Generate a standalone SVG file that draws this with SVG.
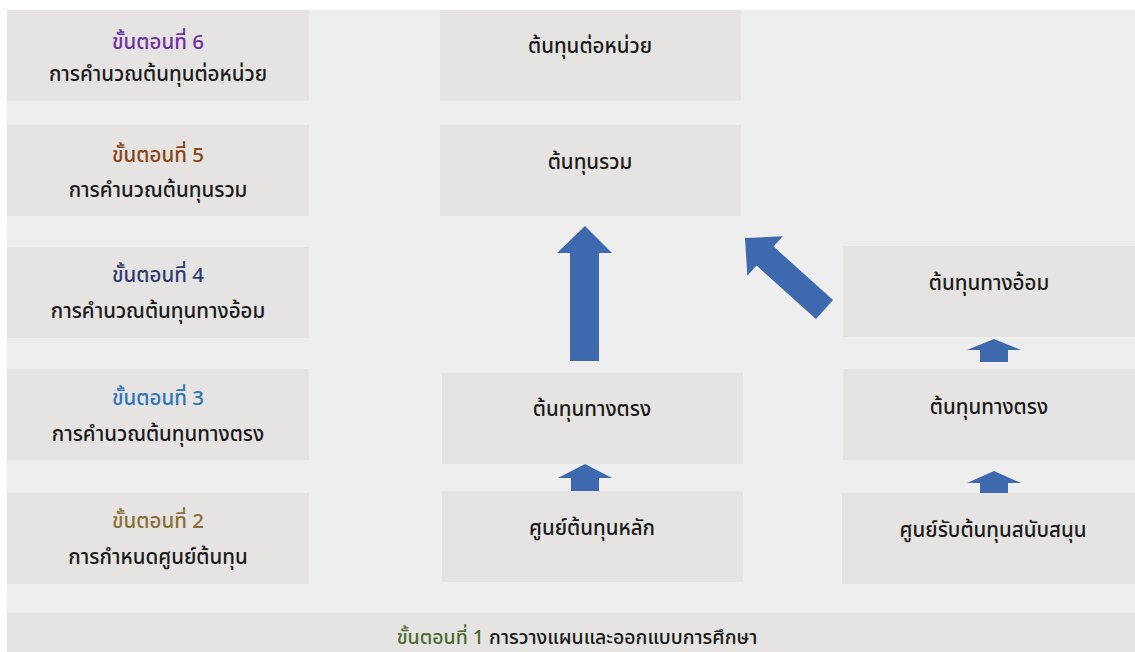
<svg xmlns="http://www.w3.org/2000/svg" width="1135" height="652" viewBox="0 0 1135 652">
<style>
.box{fill:#E5E4E2}
.t{font-family:"Noto Sans Thai","Noto Sans","DejaVu Sans",sans-serif;font-size:20.5px;font-weight:500;fill:#1a1a1a;text-anchor:middle}
.arr{fill:#3F69AF}
</style>
<rect x="0" y="0" width="1135" height="652" fill="#ffffff"/>
<rect x="7" y="10" width="1128" height="642" fill="#EEEEEE"/>
<g id="step6"><rect class="box" x="7" y="10" width="302" height="91"/>
<text class="t" x="158" y="49" style="fill:#7030A0">ขั้นตอนที่ 6</text>
<text class="t" x="158" y="81">การคำนวณต้นทุนต่อหน่วย</text></g>
<g id="step5"><rect class="box" x="7" y="125" width="302" height="91"/>
<text class="t" x="158" y="162" style="fill:#8B4513">ขั้นตอนที่ 5</text>
<text class="t" x="158" y="197">การคำนวณต้นทุนรวม</text></g>
<g id="step4"><rect class="box" x="7" y="247" width="302" height="91"/>
<text class="t" x="158" y="282" style="fill:#2F3B6E">ขั้นตอนที่ 4</text>
<text class="t" x="158" y="318">การคำนวณต้นทุนทางอ้อม</text></g>
<g id="step3"><rect class="box" x="7" y="369" width="302" height="91"/>
<text class="t" x="158" y="405" style="fill:#2E75B6">ขั้นตอนที่ 3</text>
<text class="t" x="158" y="441">การคำนวณต้นทุนทางตรง</text></g>
<g id="step2"><rect class="box" x="7" y="493" width="302" height="91"/>
<text class="t" x="158" y="528" style="fill:#8C6D37">ขั้นตอนที่ 2</text>
<text class="t" x="158" y="564">การกำหนดศูนย์ต้นทุน</text></g>
<g id="step1"><rect class="box" x="7" y="613" width="1128" height="39"/>
<text class="t" x="577" y="644" style="font-size:19.5px"><tspan style="fill:#4A6B2E">ขั้นตอนที่ 1</tspan> การวางแผนและออกแบบการศึกษา</text></g>
<g id="unitCost"><rect class="box" x="440" y="10" width="301" height="91"/>
<text class="t" x="590" y="53">ต้นทุนต่อหน่วย</text></g>
<g id="totalCost"><rect class="box" x="440" y="125" width="301" height="91"/>
<text class="t" x="590" y="169">ต้นทุนรวม</text></g>
<g id="directCostMain"><rect class="box" x="442" y="373" width="301" height="91"/>
<text class="t" x="592" y="416">ต้นทุนทางตรง</text></g>
<g id="mainCenter"><rect class="box" x="442" y="491" width="301" height="91"/>
<text class="t" x="592" y="535">ศูนย์ต้นทุนหลัก</text></g>
<g id="indirectCost"><rect class="box" x="843" y="246" width="292" height="91"/>
<text class="t" x="989" y="290">ต้นทุนทางอ้อม</text></g>
<g id="directCostSupport"><rect class="box" x="843" y="369" width="292" height="91"/>
<text class="t" x="989" y="414">ต้นทุนทางตรง</text></g>
<g id="supportCenter"><rect class="box" x="842" y="493" width="293" height="91"/>
<text class="t" x="993" y="537">ศูนย์รับต้นทุนสนับสนุน</text></g>
<g id="connectors">
<polygon class="arr" points="585,226 612,253 599,253 599,361 570,361 570,253 557,253"/>
<polygon class="arr" points="585,464 612,478 599,478 599,491 571,491 571,478 558,478"/>
<polygon class="arr" points="994,339 1021,350 1008,350 1008,362 980,362 980,350 967,350"/>
<polygon class="arr" points="994,471 1021,483 1008,483 1008,493 980,493 980,483 967,483"/>
<polygon class="arr" transform="translate(745,238) rotate(-48)" points="0,0 26.5,27 12.75,27 12.75,107 -12.75,107 -12.75,27 -26.5,27"/>
</g>
</svg>
